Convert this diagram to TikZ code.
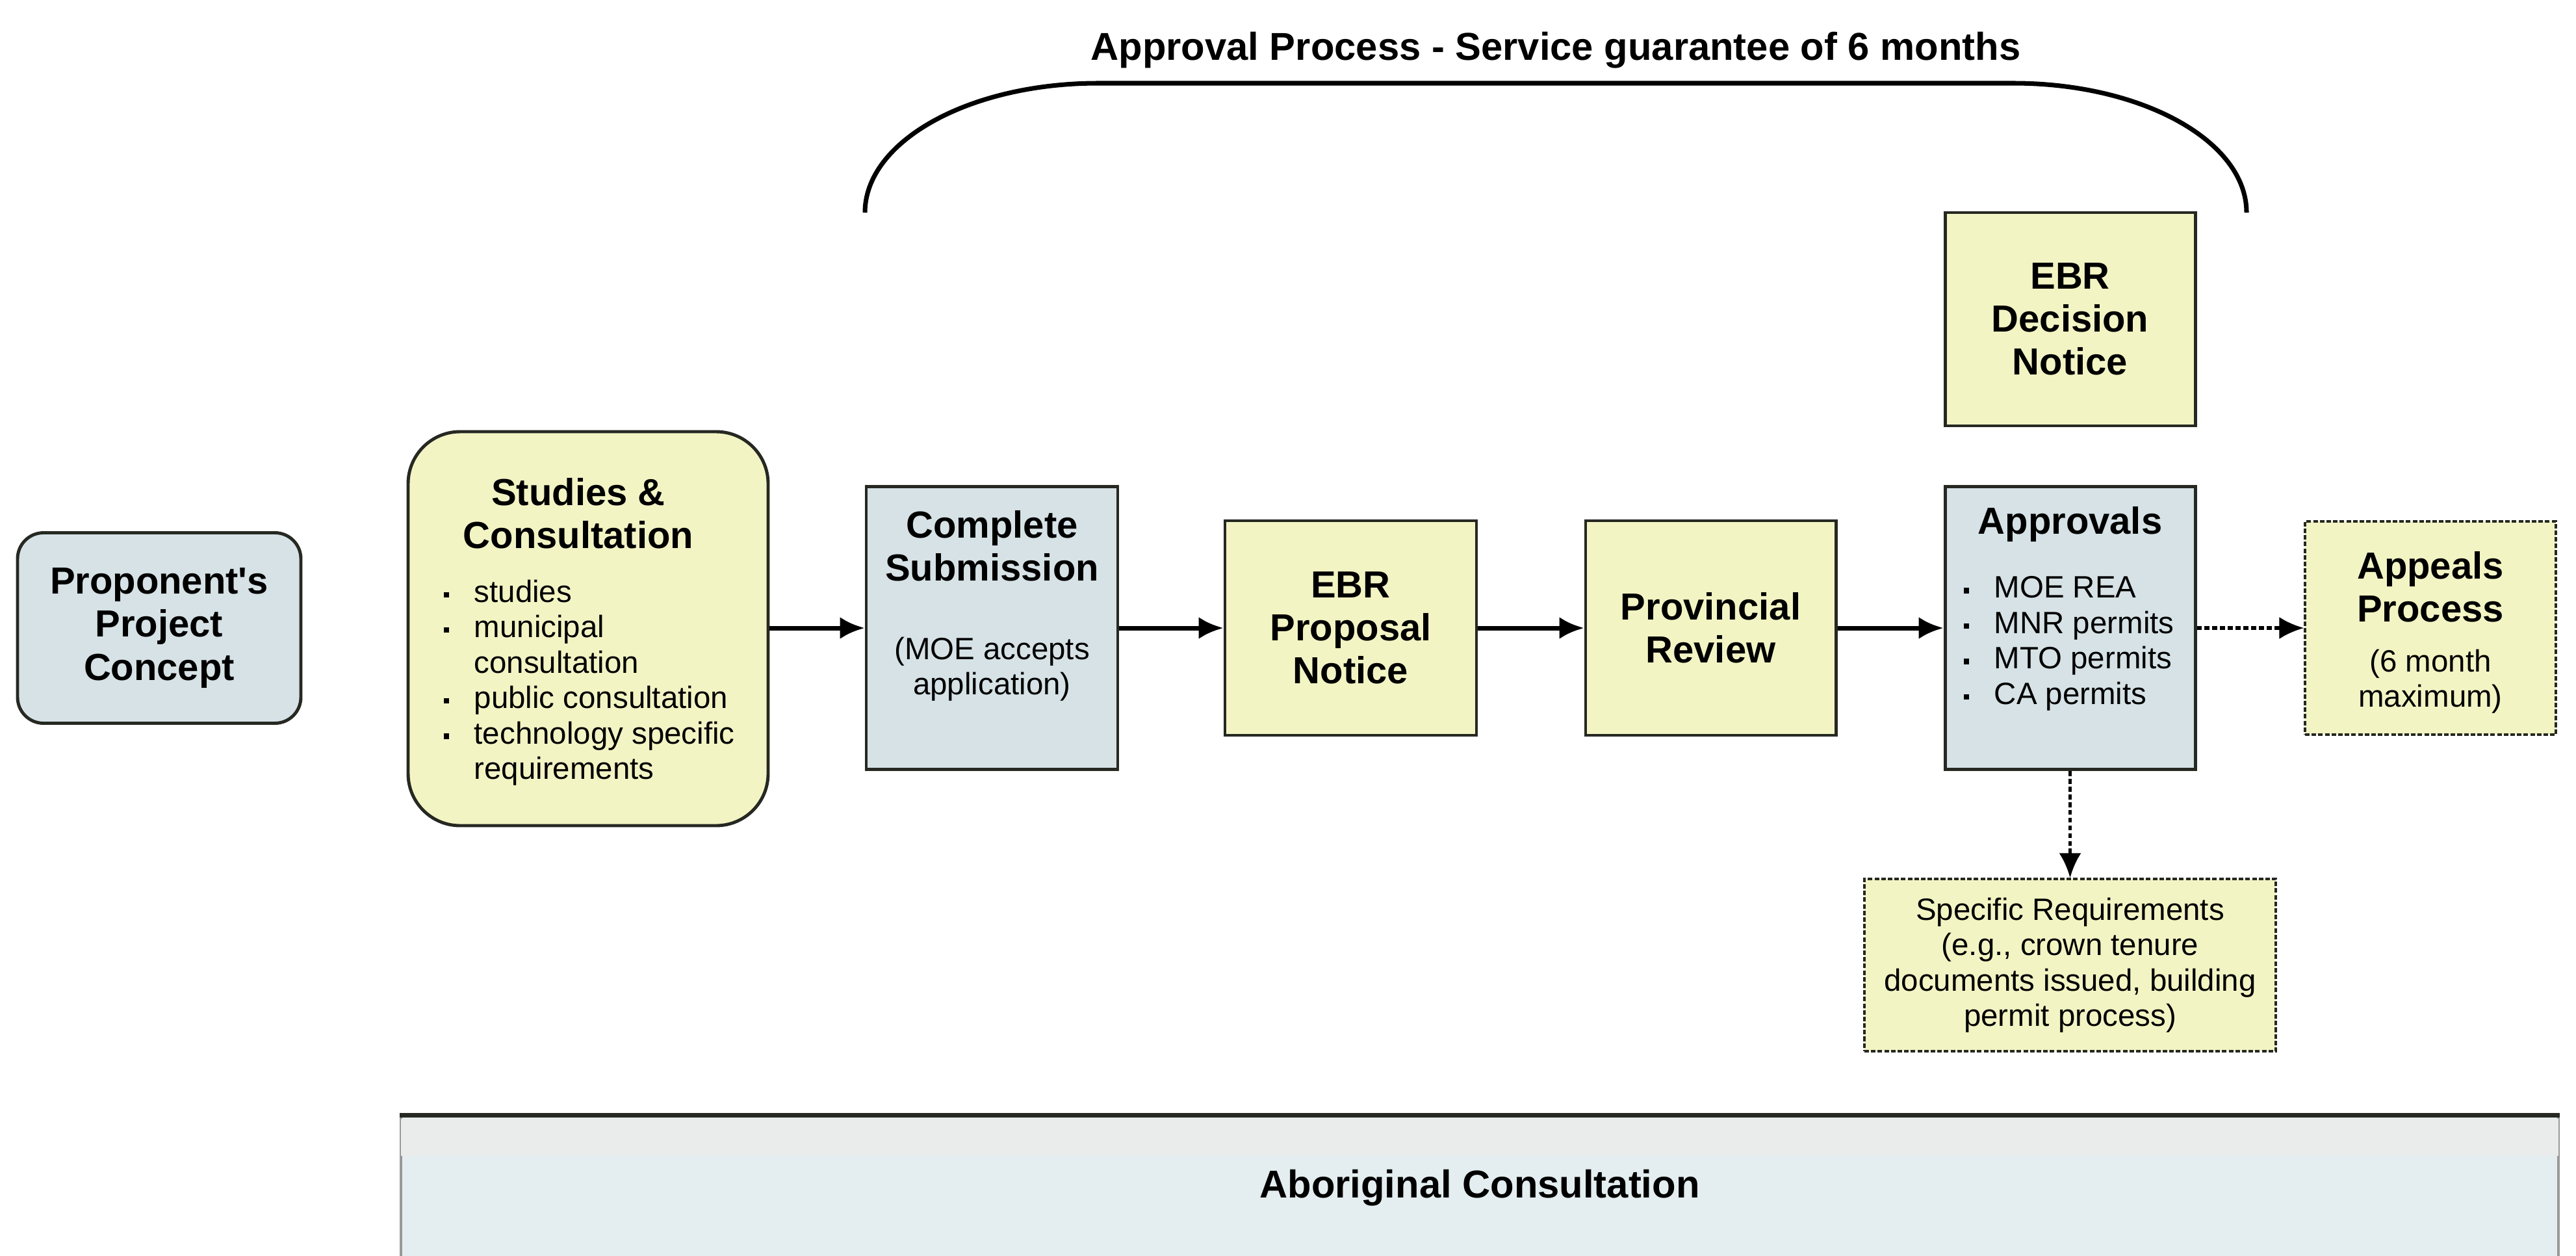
\documentclass[tikz,border=0pt]{standalone}
\usepackage{fontspec}
\setmainfont{Liberation Sans}
\usepackage{tikz}
\usetikzlibrary{arrows.meta,positioning}

\definecolor{paleyellow}{RGB}{243,244,196}
\definecolor{paleblue}{RGB}{214,226,229}
\definecolor{darkedge}{RGB}{38,40,34}
\definecolor{aborblue}{RGB}{228,237,239}
\definecolor{bandgray}{RGB}{234,235,235}

\newcommand{\hd}{\fontsize{16.5}{18.8}\selectfont\bfseries}
\newcommand{\bd}{\fontsize{13.5}{15.5}\selectfont}
\newcommand{\itm}{\makebox[0.47cm][l]{\rule[0.15em]{2.4pt}{2.4pt}}}

\begin{document}
\begin{tikzpicture}[
    yellowbox/.style={draw=darkedge, line width=1.4pt, fill=paleyellow, align=center, inner sep=0pt},
    bluebox/.style={draw=darkedge, line width=1.4pt, fill=paleblue, align=center, inner sep=0pt},
    dotbox/.style={draw=darkedge, line width=0.9pt, dash pattern=on 2pt off 0.9pt, fill=paleyellow, align=center, inner sep=0pt},
    flow/.style={line width=2pt, -{Latex[length=3.8mm,width=3.4mm]}},
    dotflow/.style={line width=1.5pt, dash pattern=on 2.2pt off 1.2pt, -{Latex[length=3.8mm,width=3.4mm]}}]
    \clip (0,0) rectangle (39.64,-19.31);

    % title and brace
    \node[font=\fontsize{17}{20}\selectfont\bfseries] (title) at (23.94,-0.77) {Approval Process - Service guarantee of 6 months};
    \draw[line width=2pt] (13.31,-3.27) arc[start angle=180, end angle=90, x radius=3.59cm, y radius=1.99cm]
        -- (30.98,-1.28) arc[start angle=90, end angle=0, x radius=3.59cm, y radius=1.99cm];

    % main row
    \node[bluebox, rounded corners=0.4cm, minimum width=4.36cm, minimum height=2.93cm, font=\hd] (concept) at (2.45,-9.66) {Proponent\textquotesingle s\\Project\\Concept};

    \node[yellowbox, rounded corners=0.8cm, minimum width=5.54cm, minimum height=6.06cm] (studies) at (9.05,-9.67) {};
    \node[font=\hd, align=center] (studiesT) at (8.90,-7.90) {Studies \&\\Consultation};
    \node[font=\bd, align=left, anchor=west, inner sep=0pt] (studiesL) at (6.82,-10.50)
        {\itm studies\\\itm municipal\\\hspace*{0.47cm}consultation\\\itm public consultation\\\itm technology specific\\\hspace*{0.47cm}requirements};

    \node[bluebox, minimum width=3.87cm, minimum height=4.35cm] (submit) at (15.265,-9.66) {};
    \node[font=\hd, align=center] (submitT) at (15.265,-8.40) {Complete\\Submission};
    \node[font=\bd, align=center] (submitN) at (15.265,-10.29) {(MOE accepts\\application)};

    \node[yellowbox, minimum width=3.87cm, minimum height=3.30cm, font=\hd] (proposal) at (20.785,-9.66) {EBR\\Proposal\\Notice};

    \node[yellowbox, minimum width=3.85cm, minimum height=3.30cm, font=\hd] (review) at (26.325,-9.66) {Provincial\\Review};

    \node[bluebox, minimum width=3.85cm, minimum height=4.35cm] (approvals) at (31.855,-9.66) {};
    \node[font=\hd] (approvalsT) at (31.855,-8.06) {Approvals};
    \node[font=\bd, align=left, anchor=west, inner sep=0pt] (approvalsL) at (30.21,-9.90)
        {\itm MOE REA\\\itm MNR permits\\\itm MTO permits\\\itm CA permits};

    \node[yellowbox, minimum width=3.85cm, minimum height=3.28cm, font=\hd] (decision) at (31.855,-4.91) {EBR\\Decision\\Notice};

    \node[dotbox, minimum width=3.86cm, minimum height=3.28cm] (appeals) at (37.40,-9.66) {};
    \node[font=\hd, align=center] (appealsT) at (37.40,-9.03) {Appeals\\Process};
    \node[font=\bd, align=center] (appealsN) at (37.40,-10.48) {(6 month\\maximum)};

    \node[dotbox, minimum width=6.33cm, minimum height=2.65cm, font=\bd] (specific) at (31.855,-14.845)
        {Specific Requirements\\(e.g., crown tenure\\documents issued, building\\permit process)};

    % aboriginal consultation band
    \node[draw=gray!80, line width=1pt, fill=aborblue, minimum width=33.2cm, minimum height=2.2cm] (abor) at (22.77,-18.27) {};
    \fill[bandgray] ([xshift=0.02cm,yshift=-0.06cm]abor.north west) rectangle ([xshift=-0.02cm,yshift=-0.63cm]abor.north east);
    \draw[darkedge, line width=2pt] (abor.north west) -- (abor.north east);
    \node[font=\fontsize{17}{20}\selectfont\bfseries] (aborT) at (22.77,-18.27) {Aboriginal Consultation};

    % connectors
    \draw[flow] (studies.east |- submit.west) -- (submit.west);
    \draw[flow] (submit) -- (proposal);
    \draw[flow] (proposal) -- (review);
    \draw[flow] (review) -- (approvals);
    \draw[dotflow] (approvals) -- (appeals);
    \draw[dotflow] (approvals) -- (specific);
\end{tikzpicture}
\end{document}
